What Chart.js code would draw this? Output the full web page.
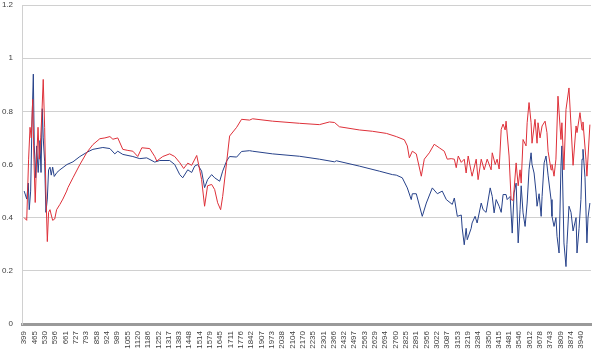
<!DOCTYPE html>
<html>
<head>
<meta charset="utf-8">
<script src="https://cdn.jsdelivr.net/npm/chart.js@4"></script>
<style>
  html, body { margin: 0; padding: 0; background: #ffffff; }
  #wrap { width: 598px; height: 356px; }
</style>
</head>
<body>
<div id="wrap"><canvas id="c" width="598" height="356"></canvas></div>
<script>
// Tick labels on the category (wavenumber) axis
const xTickLabels = ["399","465","530","596","661","727","793","858","924","989","1055","1120","1186","1252","1317","1383","1448","1514","1579","1645","1711","1776","1842","1907","1973","2038","2104","2170","2235","2301","2366","2432","2497","2563","2629","2694","2760","2825","2891","2956","3022","3087","3153","3219","3284","3350","3415","3481","3546","3612","3678","3743","3809","3874","3940"];
const yTicks = [0, 0.2, 0.4, 0.6, 0.8, 1, 1.2];

// Red series
const redX = [399,415,427,436,444,453,461,469,478,487,495,504,512,520,529,537,546,554,563,571,580,593,605,626,645,669,677,709,753,798,836,880,912,944,963,994,1026,1058,1090,1121,1147,1197,1229,1242,1280,1324,1356,1388,1413,1439,1464,1496,1508,1527,1546,1565,1591,1610,1629,1648,1661,1686,1705,1750,1781,1832,1851,1978,2149,2276,2340,2372,2403,2530,2613,2702,2765,2816,2835,2848,2867,2892,2924,2943,2975,3006,3038,3070,3089,3114,3134,3146,3159,3178,3197,3209,3222,3241,3247,3273,3285,3305,3324,3343,3368,3375,3394,3406,3419,3432,3444,3457,3463,3482,3495,3508,3514,3527,3540,3552,3559,3571,3590,3597,3609,3622,3628,3647,3660,3666,3679,3692,3711,3723,3730,3749,3755,3768,3780,3793,3812,3818,3831,3844,3863,3876,3889,3908,3914,3933,3946,3952,3971,3977,3996];
const redY = [0.40,0.39,0.62,0.74,0.70,0.845,0.62,0.457,0.62,0.74,0.62,0.70,0.80,0.92,0.74,0.50,0.31,0.42,0.43,0.41,0.39,0.395,0.43,0.45,0.47,0.50,0.513,0.55,0.60,0.646,0.675,0.697,0.70,0.705,0.695,0.70,0.657,0.653,0.65,0.63,0.663,0.66,0.63,0.613,0.63,0.64,0.63,0.607,0.585,0.605,0.597,0.634,0.60,0.543,0.443,0.52,0.525,0.506,0.456,0.43,0.48,0.607,0.707,0.74,0.77,0.767,0.772,0.763,0.755,0.75,0.76,0.758,0.742,0.73,0.725,0.717,0.705,0.693,0.67,0.625,0.65,0.64,0.556,0.62,0.644,0.676,0.663,0.65,0.62,0.622,0.62,0.588,0.632,0.608,0.62,0.568,0.632,0.573,0.556,0.62,0.543,0.62,0.58,0.62,0.58,0.644,0.60,0.62,0.583,0.732,0.752,0.73,0.763,0.632,0.468,0.465,0.506,0.606,0.52,0.58,0.53,0.694,0.67,0.757,0.833,0.757,0.68,0.77,0.68,0.757,0.70,0.745,0.763,0.72,0.65,0.58,0.60,0.556,0.62,0.857,0.694,0.757,0.58,0.807,0.888,0.745,0.597,0.745,0.72,0.795,0.73,0.76,0.62,0.556,0.75];

// Blue series
const blueX = [399,415,425,431,440,448,457,463,472,478,488,499,506,514,520,529,537,546,554,563,571,580,590,607,626,671,709,753,798,836,899,944,975,994,1026,1090,1134,1178,1229,1261,1324,1356,1388,1407,1439,1464,1483,1502,1527,1546,1565,1591,1610,1642,1661,1686,1705,1750,1781,1832,1851,1978,2149,2276,2372,2384,2530,2657,2740,2765,2803,2835,2860,2867,2892,2930,2956,2994,3026,3057,3083,3121,3134,3153,3178,3184,3197,3209,3216,3241,3247,3266,3279,3305,3317,3336,3362,3375,3387,3400,3419,3432,3444,3463,3470,3489,3502,3514,3527,3540,3552,3559,3571,3584,3597,3609,3622,3628,3641,3654,3660,3673,3686,3692,3705,3717,3730,3749,3755,3768,3780,3787,3800,3812,3818,3831,3844,3850,3863,3876,3889,3908,3914,3927,3939,3946,3952,3965,3977,3984,3996];
const blueY = [0.50,0.47,0.53,0.43,0.50,0.74,0.94,0.67,0.55,0.67,0.57,0.69,0.57,0.81,0.70,0.61,0.42,0.47,0.58,0.59,0.56,0.59,0.555,0.57,0.58,0.60,0.61,0.63,0.646,0.657,0.664,0.66,0.64,0.65,0.638,0.63,0.622,0.625,0.609,0.615,0.615,0.60,0.562,0.55,0.58,0.57,0.594,0.60,0.575,0.513,0.543,0.562,0.55,0.537,0.575,0.613,0.63,0.628,0.649,0.652,0.65,0.64,0.631,0.62,0.61,0.614,0.594,0.575,0.562,0.56,0.55,0.512,0.468,0.49,0.49,0.405,0.455,0.512,0.49,0.50,0.468,0.45,0.474,0.405,0.41,0.361,0.298,0.36,0.317,0.36,0.38,0.405,0.38,0.455,0.43,0.42,0.512,0.48,0.418,0.468,0.443,0.42,0.487,0.487,0.468,0.48,0.342,0.493,0.53,0.305,0.43,0.52,0.418,0.367,0.455,0.58,0.644,0.60,0.568,0.493,0.443,0.49,0.405,0.48,0.606,0.632,0.56,0.468,0.405,0.367,0.40,0.33,0.267,0.594,0.67,0.305,0.216,0.30,0.443,0.42,0.35,0.40,0.267,0.36,0.468,0.62,0.657,0.55,0.305,0.40,0.455];

const toPoints = (xs, ys) => xs.map((x, i) => ({ x: x, y: ys[i] }));
const tickValues = xTickLabels.map(Number);

new Chart(document.getElementById('c'), {
  type: 'line',
  data: {
    datasets: [
      { data: toPoints(redX, redY), borderColor: '#de3039', borderWidth: 1, pointRadius: 0, tension: 0, fill: false },
      { data: toPoints(blueX, blueY), borderColor: '#27428a', borderWidth: 1, pointRadius: 0, tension: 0, fill: false }
    ]
  },
  options: {
    responsive: false,
    animation: false,
    layout: { padding: { left: 0, right: 7, top: 5, bottom: 0 } },
    plugins: { legend: { display: false }, tooltip: { enabled: false } },
    scales: {
      x: {
        type: 'linear',
        min: 385,
        max: 4003,
        afterBuildTicks: (scale) => { scale.ticks = tickValues.map(v => ({ value: v })); },
        afterFit: (scale) => { scale.height = 32; },
        grid: { display: false, drawTicks: false },
        border: { display: true, color: '#9a9a9a', width: 3 },
        ticks: {
          autoSkip: false,
          minRotation: 90,
          maxRotation: 90,
          padding: 7,
          color: '#404040',
          font: { family: 'Liberation Sans', size: 8 },
          callback: (v, i) => xTickLabels[i]
        }
      },
      y: {
        min: 0,
        max: 1.2,
        afterBuildTicks: (scale) => { scale.ticks = yTicks.map(v => ({ value: v })); },
        afterFit: (scale) => { scale.width = 22; scale.paddingTop = 0; },
        grid: { color: '#d0d0d0', lineWidth: 1, drawTicks: false },
        border: { display: true, color: '#d0d0d0', width: 1 },
        ticks: {
          padding: 9,
          color: '#404040',
          font: { family: 'Liberation Sans', size: 8 },
          callback: (v) => String(+v.toFixed(1))
        }
      }
    }
  }
});
</script>
</body>
</html>
